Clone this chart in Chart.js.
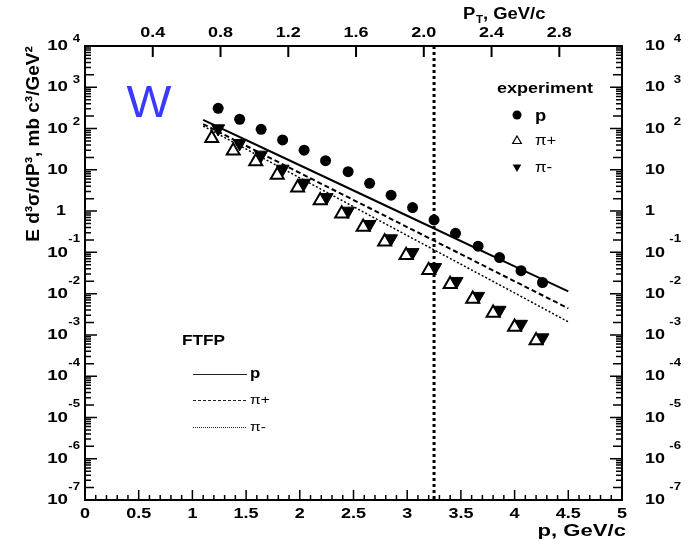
<!DOCTYPE html>
<html>
<head>
<meta charset="utf-8">
<script src="https://cdn.jsdelivr.net/npm/chart.js@4.4.0/dist/chart.umd.min.js"></script>
<style>
  html, body { margin: 0; padding: 0; background: #fff; }
  #wrap { width: 688px; height: 546px; }
</style>
</head>
<body>
<div id="wrap"><canvas id="chart" width="688" height="546"></canvas></div>
<script>
// axis ranges and tick labels
const pRange = [0, 5];
const pTRange = [0, 3.17];
const yRange = [1e-7, 1e4];
const pTicks = [0, 0.5, 1, 1.5, 2, 2.5, 3, 3.5, 4, 4.5, 5];
const pTTicks = [0.4, 0.8, 1.2, 1.6, 2.0, 2.4, 2.8];
const decades = [-7, -6, -5, -4, -3, -2, -1, 0, 1, 2, 3, 4];

// experiment: protons
const expProtonP = [1.24, 1.44, 1.64, 1.84, 2.04, 2.24, 2.45, 2.65, 2.85, 3.05, 3.25, 3.45, 3.66, 3.86, 4.06, 4.26];
const expProton = [310, 168, 96, 53, 30, 16.7, 9.0, 4.7, 2.43, 1.22, 0.61, 0.29, 0.141, 0.075, 0.036, 0.0186];

// experiment: pi+
const expPipP = [1.18, 1.38, 1.59, 1.79, 1.98, 2.19, 2.39, 2.59, 2.79, 2.99, 3.20, 3.40, 3.61, 3.80, 4.00, 4.20];
const expPip = [58, 29, 15.8, 7.5, 3.7, 1.8, 0.86, 0.41, 0.18, 0.085, 0.037, 0.017, 0.0074, 0.0034, 0.00155, 0.00073];

// experiment: pi-
const expPimP = [1.24, 1.44, 1.64, 1.84, 2.04, 2.25, 2.45, 2.65, 2.85, 3.05, 3.26, 3.46, 3.66, 3.86, 4.06, 4.26];
const expPim = [100, 44, 23, 10.5, 4.8, 2.15, 1.01, 0.48, 0.216, 0.1, 0.0434, 0.020, 0.0087, 0.004, 0.00183, 0.00086];

// FTFP model curves
const modelP = [1.1, 2.0, 3.0, 4.0, 4.5];
const ftfpProton = [163, 12.9, 0.77, 0.046, 0.0113];
const ftfpPip = [128, 8.4, 0.41, 0.0199, 0.0044];
const ftfpPim = [115, 6.4, 0.256, 0.0104, 0.00207];

// vertical cut line
const cutP = 3.25;

const FONT = '"Liberation Sans", Arial, Helvetica, sans-serif';

function pts(xs, ys) {
    return xs.map((x, i) => ({ x: x, y: ys[i] }));
}

// text with a horizontal stretch, the source picture is a bit wide
function txt(ctx, s, x, y, font, align, sx, baseline, color) {
    ctx.save();
    ctx.translate(x, y);
    ctx.scale(sx, 1);
    ctx.font = font;
    ctx.textAlign = align;
    ctx.textBaseline = baseline || "middle";
    ctx.fillStyle = color || "#000";
    ctx.fillText(s, 0, 0);
    ctx.restore();
}

function tri(ctx, x, y, r, down, filled) {
    const s = down ? -1 : 1;
    ctx.beginPath();
    ctx.moveTo(x, y - s * r);
    ctx.lineTo(x + r * 0.866, y + s * r * 0.5);
    ctx.lineTo(x - r * 0.866, y + s * r * 0.5);
    ctx.closePath();
    if (filled) {
        ctx.fillStyle = "#000";
        ctx.fill();
    } else {
        ctx.fillStyle = "#fff";
        ctx.fill();
        ctx.lineWidth = 1.2;
        ctx.strokeStyle = "#000";
        ctx.stroke();
    }
}

// PLUGIN: ROOT STYLE FRAME, TICKS, LABELS ---
const frameAxesPlugin = {
    id: "frameAxes",
    afterDraw: (chart) => {
        const { ctx, chartArea: a, scales } = chart;
        const xs = scales.x;
        const ys = scales.y;
        const xt = scales.xTop;

        ctx.save();
        ctx.strokeStyle = "#000";

        // frame
        ctx.lineWidth = 2;
        ctx.strokeRect(a.left, a.top, a.right - a.left, a.bottom - a.top);

        // log ticks on left and right
        ctx.lineWidth = 1.5;
        for (let d = decades[0]; d <= decades[decades.length - 1]; d++) {
            for (let m = 1; m <= 9; m++) {
                const v = m * Math.pow(10, d);
                if (v > yRange[1] * 1.0001) continue;
                const py = ys.getPixelForValue(v);
                const len = m === 1 ? 12 : (m === 2 ? 9 : 6);
                ctx.beginPath();
                ctx.moveTo(a.left, py);
                ctx.lineTo(a.left + len, py);
                ctx.moveTo(a.right, py);
                ctx.lineTo(a.right - len, py);
                ctx.stroke();
            }
        }

        // bottom ticks
        for (let i = 0; i <= 50; i++) {
            const px = xs.getPixelForValue(i / 10);
            const len = i % 5 === 0 ? 10 : 5;
            ctx.beginPath();
            ctx.moveTo(px, a.bottom);
            ctx.lineTo(px, a.bottom - len);
            ctx.stroke();
        }

        // top ticks
        ctx.lineWidth = 2;
        pTTicks.forEach((v) => {
            const px = xt.getPixelForValue(v);
            ctx.beginPath();
            ctx.moveTo(px, a.top);
            ctx.lineTo(px, a.top + 11);
            ctx.stroke();
        });

        // tick labels
        const lab = "bold 15px " + FONT;
        const sup = "bold 11px " + FONT;
        pTicks.forEach((v) => {
            txt(ctx, String(v), xs.getPixelForValue(v), 514, lab, "center", 1.2);
        });
        pTTicks.forEach((v) => {
            txt(ctx, v.toFixed(1), xt.getPixelForValue(v), 33, lab, "center", 1.2);
        });
        decades.forEach((d) => {
            const py = ys.getPixelForValue(Math.pow(10, d));
            if (d === 0) {
                txt(ctx, "1", 61, py, lab, "center", 1.2);
                txt(ctx, "1", 650, py, lab, "center", 1.2);
                return;
            }
            txt(ctx, "10", 68, py, lab, "right", 1.25);
            txt(ctx, "10", 645, py, lab, "left", 1.2);
            if (d !== 1) {
                const off = d > 0 ? -7 : -13;
                txt(ctx, String(d), 80, py + off, sup, "right", 1.2);
                txt(ctx, String(d), 681, py + off, sup, "right", 1.2);
            }
        });

        // axis titles
        txt(ctx, "p, GeV/c", 626, 531, "bold 17px " + FONT, "right", 1.3);
        txt(ctx, "P", 463, 15, "bold 16px " + FONT, "left", 1.15);
        txt(ctx, "T", 476, 20, "bold 10px " + FONT, "left", 1.15);
        txt(ctx, ", GeV/c", 483, 15, "bold 16px " + FONT, "left", 1.15);

        ctx.save();
        ctx.translate(39, 144);
        ctx.rotate(-Math.PI / 2);
        ctx.font = "bold 19px " + FONT;
        ctx.textAlign = "center";
        ctx.textBaseline = "alphabetic";
        ctx.fillStyle = "#000";
        ctx.fillText("E d\u00b3\u03c3/dP\u00b3, mb c\u00b3/GeV\u00b2", 0, 0);
        ctx.restore();

        // target label
        txt(ctx, "W", 149, 117, "44px " + FONT, "center", 1.08, "alphabetic", "#3a3aff");

        // legend: experiment
        txt(ctx, "experiment", 497, 93, "bold 15px " + FONT, "left", 1.2, "alphabetic");
        ctx.beginPath();
        ctx.arc(517, 115, 4.5, 0, Math.PI * 2);
        ctx.fillStyle = "#000";
        ctx.fill();
        txt(ctx, "p", 535, 121, "bold 16px " + FONT, "left", 1.15, "alphabetic");
        tri(ctx, 517, 141, 5, false, false);
        txt(ctx, "\u03c0+", 535, 141, "14px " + FONT, "left", 1.2);
        tri(ctx, 517, 167, 5, true, true);
        txt(ctx, "\u03c0-", 535, 168, "14px " + FONT, "left", 1.2);

        // legend: FTFP
        txt(ctx, "FTFP", 182, 345, "bold 14px " + FONT, "left", 1.23, "alphabetic");
        ctx.strokeStyle = "#222";
        ctx.lineWidth = 1;
        ctx.beginPath();
        ctx.moveTo(193, 374.5);
        ctx.lineTo(247, 374.5);
        ctx.stroke();
        ctx.setLineDash([3, 2]);
        ctx.beginPath();
        ctx.moveTo(193, 400.5);
        ctx.lineTo(247, 400.5);
        ctx.stroke();
        ctx.setLineDash([1, 1]);
        ctx.beginPath();
        ctx.moveTo(193, 427.5);
        ctx.lineTo(247, 427.5);
        ctx.stroke();
        ctx.setLineDash([]);
        txt(ctx, "p", 250, 378, "bold 14px " + FONT, "left", 1.2, "alphabetic");
        txt(ctx, "\u03c0+", 250, 400, "13px " + FONT, "left", 1.2);
        txt(ctx, "\u03c0-", 250, 427, "13px " + FONT, "left", 1.2);

        ctx.restore();
    },
};

const ctx1 = document.getElementById("chart").getContext("2d");
window.spectrumChart = new Chart(ctx1, {
    type: "scatter",
    plugins: [frameAxesPlugin],
    data: {
        datasets: [
            {
                label: "pi+",
                data: pts(expPipP, expPip),
                pointStyle: "triangle",
                pointRadius: 7.5,
                backgroundColor: "#fff",
                borderColor: "#000",
                borderWidth: 2,
                order: 0,
            },
            {
                label: "pi-",
                data: pts(expPimP, expPim),
                pointStyle: "triangle",
                rotation: 180,
                pointRadius: 7.5,
                backgroundColor: "#000",
                borderColor: "#000",
                borderWidth: 1,
                order: 1,
            },
            {
                label: "p",
                data: pts(expProtonP, expProton),
                pointStyle: "circle",
                pointRadius: 5.5,
                backgroundColor: "#000",
                borderColor: "#000",
                borderWidth: 0,
                order: 2,
            },
            {
                label: "FTFP p",
                data: pts(modelP, ftfpProton),
                showLine: true,
                pointRadius: 0,
                borderColor: "#000",
                borderWidth: 2,
                order: 3,
            },
            {
                label: "FTFP pi+",
                data: pts(modelP, ftfpPip),
                showLine: true,
                pointRadius: 0,
                borderColor: "#000",
                borderWidth: 2,
                borderDash: [5, 3],
                order: 4,
            },
            {
                label: "FTFP pi-",
                data: pts(modelP, ftfpPim),
                showLine: true,
                pointRadius: 0,
                borderColor: "#000",
                borderWidth: 1.5,
                borderDash: [2, 2],
                order: 5,
            },
            {
                label: "cut",
                data: [{ x: cutP, y: yRange[1] }, { x: cutP, y: yRange[0] }],
                showLine: true,
                pointRadius: 0,
                borderColor: "#000",
                borderWidth: 3,
                borderDash: [3, 3],
                order: 6,
            },
        ],
    },
    options: {
        responsive: false,
        animation: false,
        layout: {
            padding: { top: 46, bottom: 46, left: 85, right: 66 },
        },
        scales: {
            x: { type: "linear", min: pRange[0], max: pRange[1], display: false },
            xTop: { type: "linear", axis: "x", position: "top", min: pTRange[0], max: pTRange[1], display: false },
            y: { type: "logarithmic", min: yRange[0], max: yRange[1], display: false },
        },
        plugins: {
            legend: { display: false },
            tooltip: { enabled: false },
        },
    },
});
</script>
</body>
</html>
